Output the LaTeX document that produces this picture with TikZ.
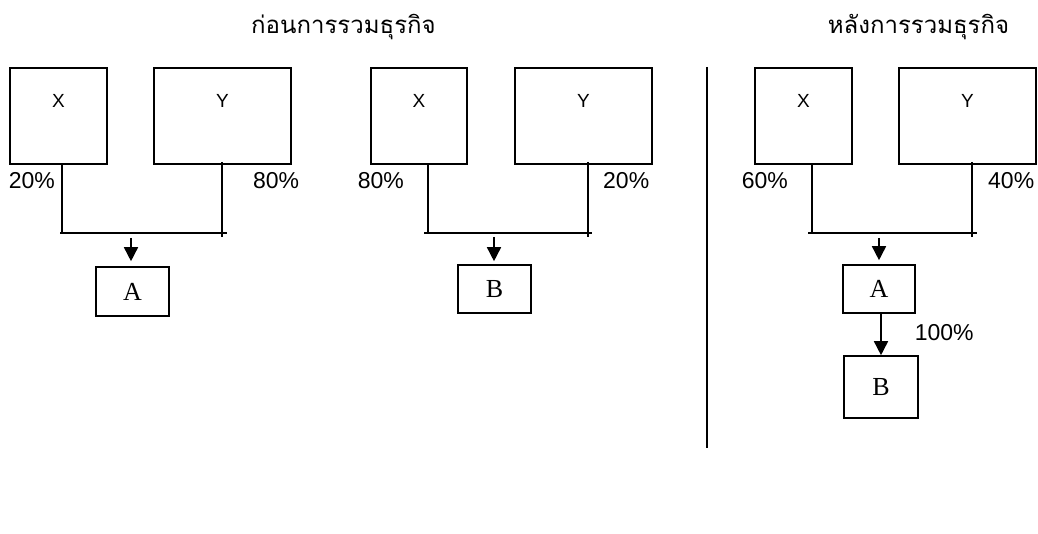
\documentclass[tikz,border=0pt]{standalone}
\usepackage{fontspec}
\setmainfont{Liberation Serif}
\newfontfamily\thaifont[Script=Thai]{Loma}
\newfontfamily\sansf{Liberation Sans}
\usetikzlibrary{arrows.meta}
\begin{document}
\begin{tikzpicture}[x=1pt,y=-1pt,line width=1.6pt,
  box/.style={draw,inner sep=0pt,minimum height=96pt},
  small/.style={draw,inner sep=0pt},
  lbl/.style={inner sep=0pt,font=\sansf\fontsize{19}{22}\selectfont},
  pct/.style={inner sep=0pt,font=\sansf\fontsize{23}{27}\selectfont},
  co/.style={font=\fontsize{26}{30}\selectfont},
  ttl/.style={inner sep=0pt,font=\thaifont\fontsize{24}{30}\selectfont},
  arr/.style={-{Triangle[length=14pt,width=14pt]}}]
\useasboundingbox (0,0) rectangle (1038,534);
% titles
\node[ttl] (t1) at (343.5,27) {ก่อนการรวมธุรกิจ};
\node[ttl] (t2) at (918.5,27) {หลังการรวมธุรกิจ};
% divider
\coordinate (d1) at (707,67);
\coordinate (d2) at (707,448);
\draw (d1) -- (d2);
% group 1
\node[box,minimum width=97pt] (X1) at (58.5,116) {};
\node[box,minimum width=137pt] (Y1) at (222.5,116) {};
\node[lbl] (X1l) at (58.5,100.5) {X};
\node[lbl] (Y1l) at (222.5,100.5) {Y};
\node[small,minimum width=73pt,minimum height=49pt,co] (A1) at (132.5,291.5) {A};
\node[pct,anchor=west] (p1) at (8,181) {20\%};
\node[pct,anchor=east] (p2) at (300,181) {80\%};
\coordinate (b1l) at (62,233);
\coordinate (b1r) at (222,237);
\coordinate (h1a) at (60,233);
\coordinate (h1b) at (227,233);
\coordinate (a1s) at (131,238);
\draw (X1.south -| b1l) -- (b1l);
\draw ([yshift=3pt]Y1.south -| b1r) -- (b1r);
\draw (h1a) -- (h1b);
\draw[arr] (a1s) -- ([yshift=5pt]A1.north -| a1s);
% group 2
\node[box,minimum width=96pt] (X2) at (419,116) {};
\node[box,minimum width=137pt] (Y2) at (583.5,116) {};
\node[lbl] (X2l) at (419,100.5) {X};
\node[lbl] (Y2l) at (583.5,100.5) {Y};
\node[small,minimum width=73pt,minimum height=48pt,co] (B2) at (494.5,289) {B};
\node[pct,anchor=west] (p3) at (357,181) {80\%};
\node[pct,anchor=east] (p4) at (650,181) {20\%};
\coordinate (b2l) at (428,233);
\coordinate (b2r) at (588,237);
\coordinate (h2a) at (424,233);
\coordinate (h2b) at (592,233);
\coordinate (a2s) at (494,237);
\draw (X2.south -| b2l) -- (b2l);
\draw ([yshift=3pt]Y2.south -| b2r) -- (b2r);
\draw (h2a) -- (h2b);
\draw[arr] (a2s) -- ([yshift=3pt]B2.north -| a2s);
% group 3
\node[box,minimum width=97pt] (X3) at (803.5,116) {};
\node[box,minimum width=137pt] (Y3) at (967.5,116) {};
\node[lbl] (X3l) at (803.5,100.5) {X};
\node[lbl] (Y3l) at (967.5,100.5) {Y};
\node[small,minimum width=72pt,minimum height=48pt,co] (A3) at (879,289) {A};
\node[small,minimum width=74pt,minimum height=62pt,co] (B3) at (881,387) {B};
\node[pct,anchor=west] (p5) at (741,181) {60\%};
\node[pct,anchor=east] (p6) at (1035,181) {40\%};
\node[pct,anchor=west] (p7) at (914,333) {100\%};
\coordinate (b3l) at (812,233);
\coordinate (b3r) at (972,237);
\coordinate (h3a) at (808,233);
\coordinate (h3b) at (977,233);
\coordinate (a3s) at (879,238);
\coordinate (a4s) at (881,313);
\draw (X3.south -| b3l) -- (b3l);
\draw ([yshift=3pt]Y3.south -| b3r) -- (b3r);
\draw (h3a) -- (h3b);
\draw[arr] (a3s) -- ([yshift=4pt]A3.north -| a3s);
\draw[arr] (A3.south -| a4s) -- (B3.north -| a4s);
\end{tikzpicture}
\end{document}
